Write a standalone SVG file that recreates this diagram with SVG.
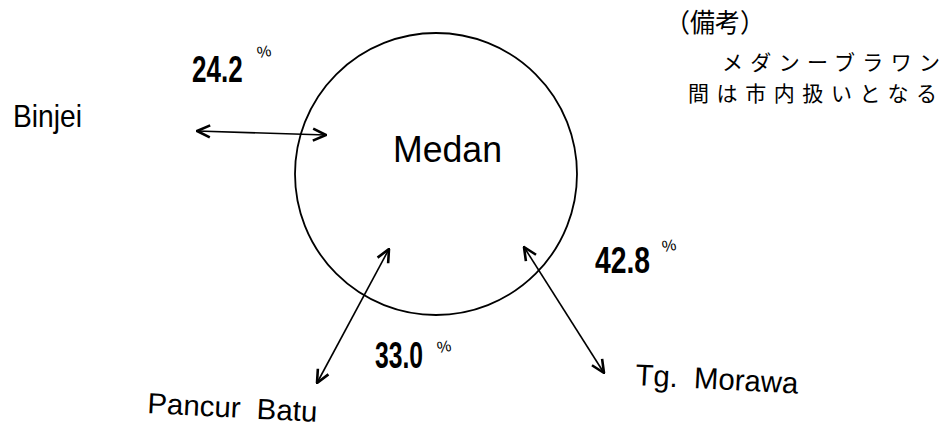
<svg xmlns="http://www.w3.org/2000/svg" width="944" height="427" viewBox="0 0 944 427">
<style>
.lbl{font-family:"Liberation Sans",Arial,sans-serif;fill:#000;white-space:pre}
.num{font-family:"Liberation Sans",Arial,sans-serif;font-weight:bold;fill:#000}
.pct{font-family:"Liberation Sans",Arial,sans-serif;fill:#000;font-size:16px}
.jp{font-family:"Noto Sans CJK JP","Noto Sans CJK SC",sans-serif;fill:#000}
.conn{stroke:#000;stroke-width:1.6;fill:none}
</style>
<defs>
<marker id="ah" viewBox="0 0 16 16" refX="15" refY="8" markerWidth="16" markerHeight="16" markerUnits="userSpaceOnUse" orient="auto-start-reverse">
<path d="M2,2 L15,8 L2,14" fill="none" stroke="#000" stroke-width="2.6" stroke-linejoin="miter"/>
</marker>
</defs>
<rect width="944" height="427" fill="#fff"/>
<g id="medan">
<circle cx="436" cy="174" r="141" fill="none" stroke="#000" stroke-width="1.8"/>
<text class="lbl" x="393" y="162" font-size="36" textLength="109" lengthAdjust="spacingAndGlyphs">Medan</text>
</g>
<g id="binjei">
<text class="lbl" x="13" y="127" font-size="32" textLength="69" lengthAdjust="spacingAndGlyphs">Binjei</text>
</g>
<g id="pancur-batu">
<text class="lbl" x="147" y="413" font-size="29" textLength="170" lengthAdjust="spacingAndGlyphs" transform="rotate(3 147 413)" xml:space="preserve">Pancur  Batu</text>
</g>
<g id="tg-morawa">
<text class="lbl" x="635" y="385" font-size="30" textLength="163" lengthAdjust="spacingAndGlyphs" transform="rotate(3 635 385)" xml:space="preserve">Tg.  Morawa</text>
</g>
<g id="connectors">
<line class="conn" x1="197" y1="131" x2="326" y2="135" marker-start="url(#ah)" marker-end="url(#ah)"/>
<line class="conn" x1="317" y1="383" x2="389" y2="249" marker-start="url(#ah)" marker-end="url(#ah)"/>
<line class="conn" x1="524" y1="247" x2="604" y2="373" marker-start="url(#ah)" marker-end="url(#ah)"/>
</g>
<g id="labels">
<text class="num" font-size="26" transform="translate(192,82) scale(1,1.42)">24.2</text>
<text class="pct" x="257" y="57" transform="rotate(-10 264 52)">%</text>
<text class="num" font-size="24.7" transform="translate(375,368) scale(1,1.47)">33.0</text>
<text class="pct" x="437" y="352" transform="rotate(-10 444 347)">%</text>
<text class="num" font-size="28.3" transform="translate(595,273) scale(1,1.28)">42.8</text>
<text class="pct" x="662" y="251" transform="rotate(-10 669 246)">%</text>
</g>
<g id="note">
<text class="jp" x="665" y="32" font-size="26" textLength="100" lengthAdjust="spacingAndGlyphs">（備考）</text>
<text class="jp" x="722" y="70" font-size="21" textLength="218" lengthAdjust="spacing">メダンーブラワン</text>
<text class="jp" x="688" y="101" font-size="21" textLength="249" lengthAdjust="spacing">間は市内扱いとなる</text>
</g>
</svg>
